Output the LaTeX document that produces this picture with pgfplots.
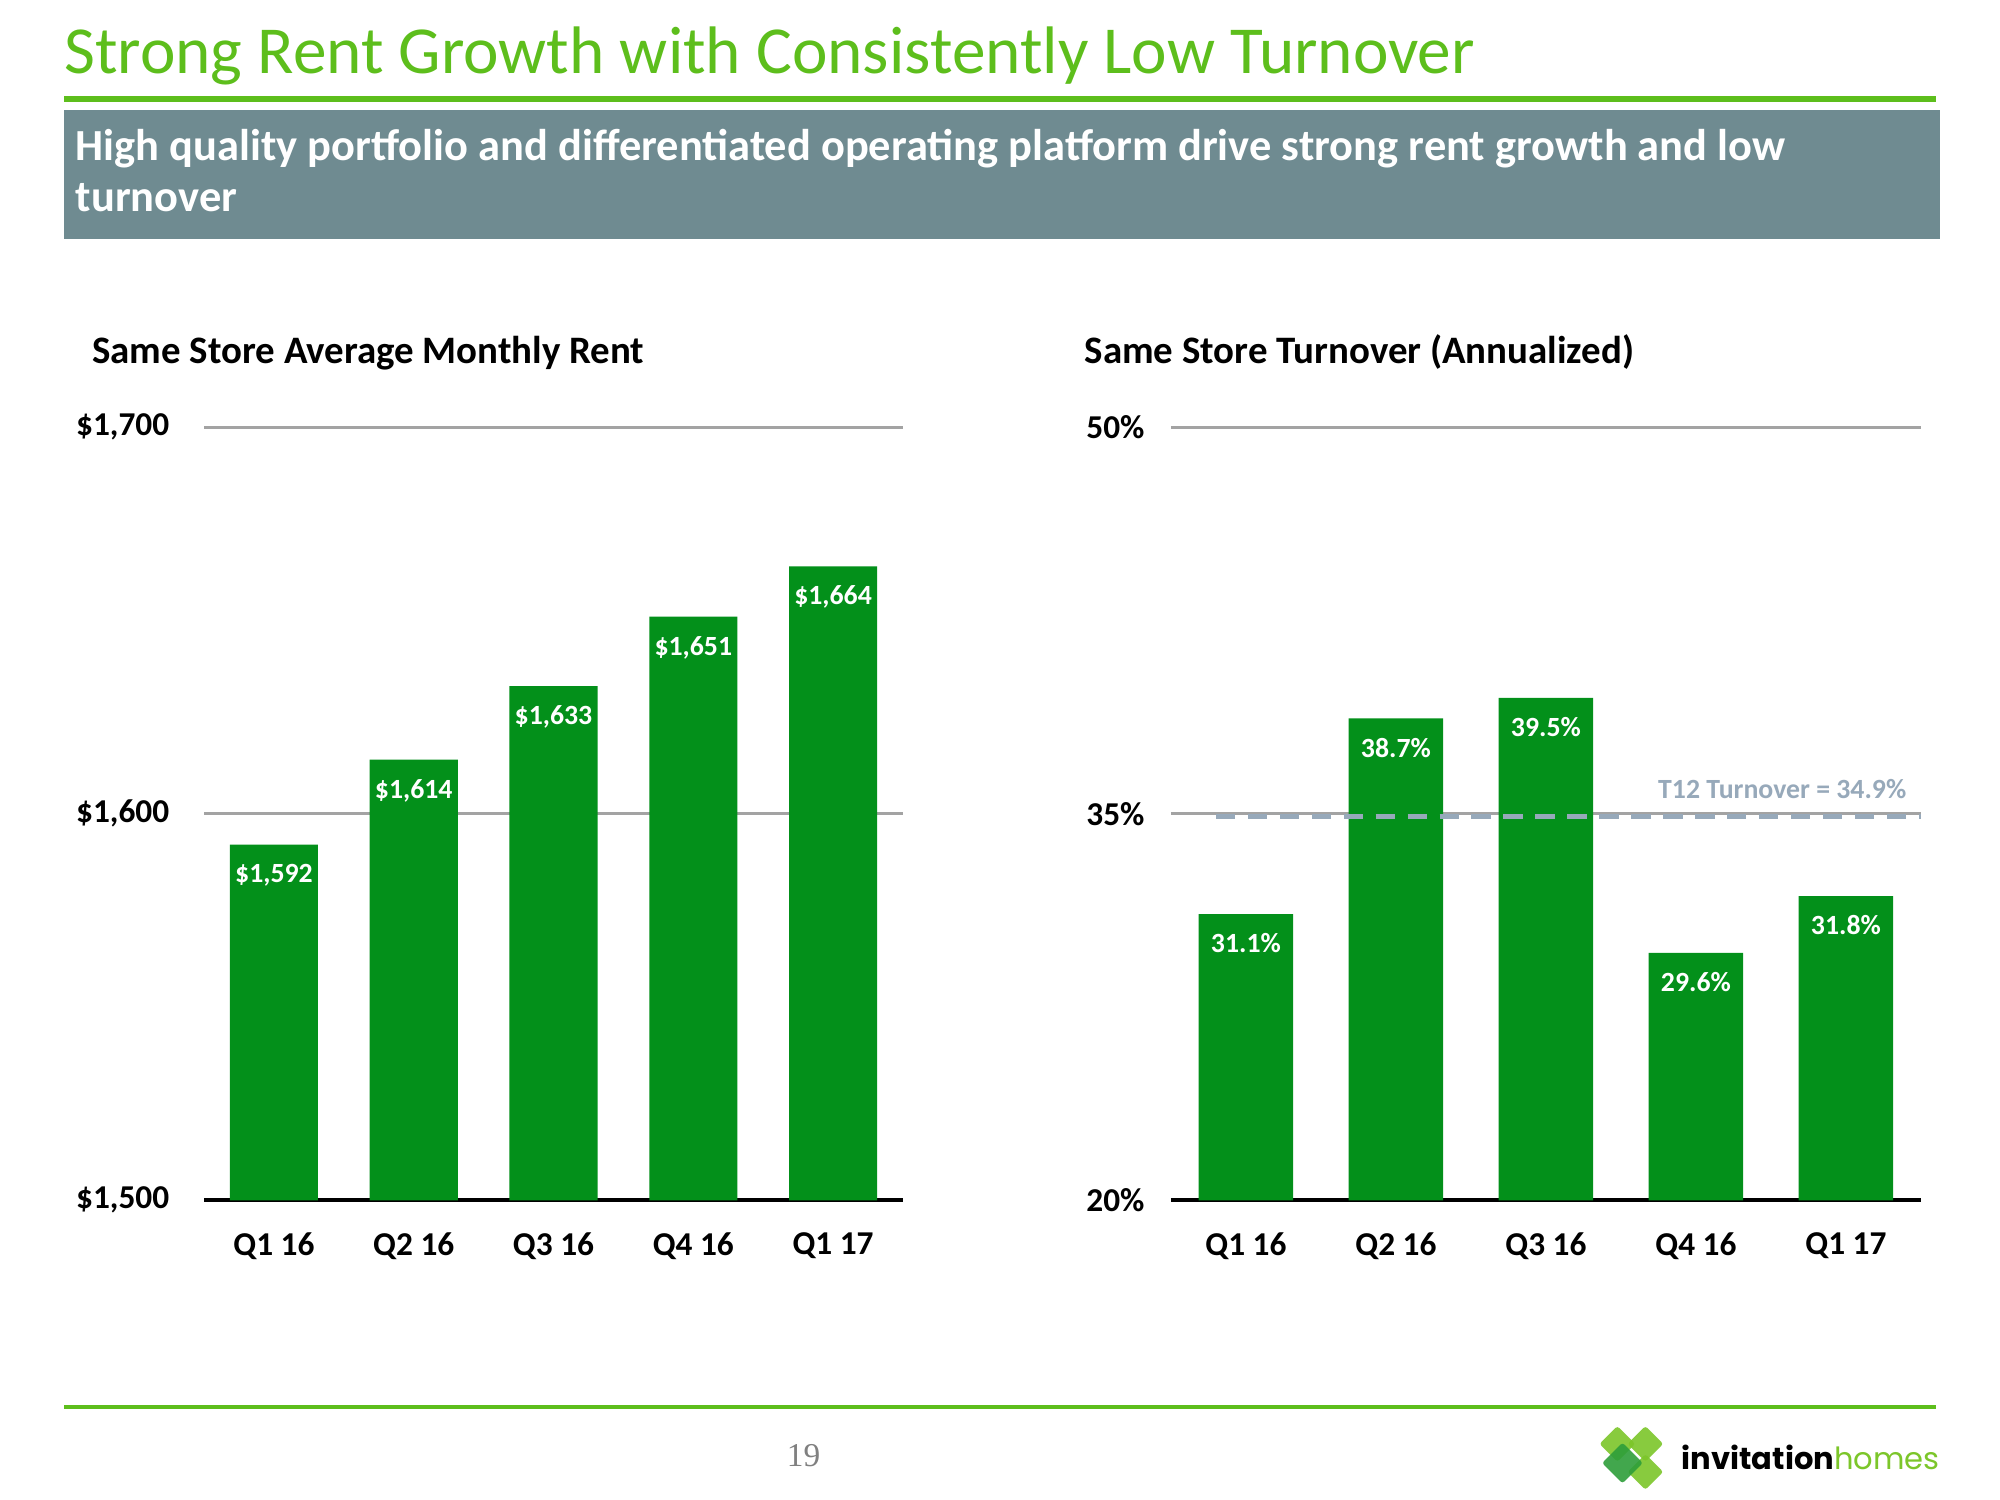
\documentclass[border=0pt]{standalone}
\usepackage{pgfplots}
\pgfplotsset{compat=1.18}
\usepackage{fontspec}
\setmainfont{Carlito}
\newfontfamily\serifnum{Liberation Serif}
\newfontfamily\logofont{Poppins}
\definecolor{bargreen}{HTML}{03901A}
\definecolor{titlegreen}{HTML}{5DBE1C}
\definecolor{boxgray}{HTML}{6F8B91}
\definecolor{gridgray}{HTML}{A3A3A3}
\definecolor{t12}{HTML}{97A9BA}
\definecolor{logo1}{HTML}{7CC62A}
\definecolor{logo2}{HTML}{2E9E3A}
\pgfplotsset{
  slidebar/.style={
    anchor=south west, scale only axis, height=278.3pt,
    xmin=-0.5, xmax=4.5, xtick={0,1,2,3,4},
    xticklabels={Q1 16,Q2 16,Q3 16,Q4 16,Q1 17},
    ybar, bar width=0.63,
    axis x line*=bottom, axis y line*=left,
    x axis line style={black, line width=1.4pt, -},
    y axis line style={draw=none},
    major tick length=0pt,
    ymajorgrids, grid style={gridgray, line width=1pt},
    tick label style={font=\fontsize{12}{14}\selectfont\bfseries},
    xticklabel style={yshift=-8pt},
    point meta=explicit symbolic,
    nodes near coords,
    every node near coord/.append style={anchor=north, yshift=-3.5pt,
      font=\fontsize{10}{12}\selectfont\bfseries, text=white},
    clip=false,
  }
}
\begin{document}
\begin{tikzpicture}[x=0.459184pt,y=-0.459184pt]
\path[use as bounding box, fill=white] (0,0) rectangle (1568,1176);
% header
\node[anchor=base west, inner sep=0, text=titlegreen, font=\fontsize{24.2}{28}\selectfont] at (50,58) {Strong Rent Growth with Consistently Low Turnover};
\fill[titlegreen] (50,75) rectangle (1518,80);
\fill[boxgray] (50,86) rectangle (1521,187);
\node[anchor=base west, inner sep=0, text=white, font=\fontsize{16}{19}\selectfont\bfseries] at (59,126) {High quality portfolio and differentiated operating platform drive strong rent growth and low};
\node[anchor=base west, inner sep=0, text=white, font=\fontsize{16}{19}\selectfont\bfseries] at (59,166) {turnover};
% chart headers
\node[anchor=base west, inner sep=0, font=\fontsize{14}{17}\selectfont\bfseries] at (72,285) {Same Store Average Monthly Rent};
\node[anchor=base west, inner sep=0, font=\fontsize{14}{17}\selectfont\bfseries] at (850,285) {Same Store Turnover (Annualized)};
% left chart
\begin{axis}[slidebar, at={(73.469pt,-432.09pt)}, width=251.6pt,
  ymin=1500, ymax=1700, ytick={1500,1600,1700},
  yticklabels={{\$1,500},{\$1,600},{\$1,700}},
  yticklabel style={xshift=-9pt}]
\addplot[fill=bargreen, draw=none] coordinates {
  (0,1592) [\$1,592]
  (1,1614) [\$1,614]
  (2,1633) [\$1,633]
  (3,1651) [\$1,651]
  (4,1664) [\$1,664]
};
\end{axis}
% right chart
\begin{axis}[slidebar, at={(421.53pt,-432.09pt)}, width=270.0pt,
  ymin=20, ymax=50, ytick={20,35,50},
  yticklabels={20\%,35\%,50\%},
  yticklabel style={xshift=-6pt}]
\addplot[fill=bargreen, draw=none] coordinates {
  (0,31.1) [31.1\%]
  (1,38.7) [38.7\%]
  (2,39.5) [39.5\%]
  (3,29.6) [29.6\%]
  (4,31.8) [31.8\%]
};
\addplot[sharp plot, no marks, t12, line width=1.8pt, dash pattern=on 7pt off 4.5pt, nodes near coords={}] coordinates {(-0.2,34.9) (4.5,34.9)};
\end{axis}
\node[anchor=base east, inner sep=0, text=t12, font=\fontsize{10}{12}\selectfont\bfseries] at (1495,626) {T12 Turnover = 34.9\%};
% footer
\fill[titlegreen] (50,1101.5) rectangle (1518,1104.5);
\node[anchor=base, inner sep=0, text=gray, font=\serifnum\fontsize{12}{14}\selectfont] at (630,1150) {19};
% logo
\begin{scope}[shift={(1278,1143)}]
  \fill[logo1, opacity=0.9, rounded corners=1pt] (12,-25) -- (26,-11) -- (12,3) -- (-2,-11) -- cycle;
  \fill[logo1, opacity=0.9, rounded corners=1pt] (-10,-25) -- (4,-11) -- (-10,3) -- (-24,-11) -- cycle;
  \fill[logo1, opacity=0.9, rounded corners=1pt] (12,-3) -- (26,11) -- (12,25) -- (-2,11) -- cycle;
  \fill[logo2, opacity=0.9, rounded corners=1pt] (-6,-12) -- (10,4) -- (-6,20) -- (-22,4) -- cycle;
\end{scope}
\node[anchor=base west, inner sep=0, font=\logofont\fontsize{11}{13}\selectfont] at (1318,1152) {\textbf{invitation}\textcolor{logo1}{homes}};
\end{tikzpicture}
\end{document}
